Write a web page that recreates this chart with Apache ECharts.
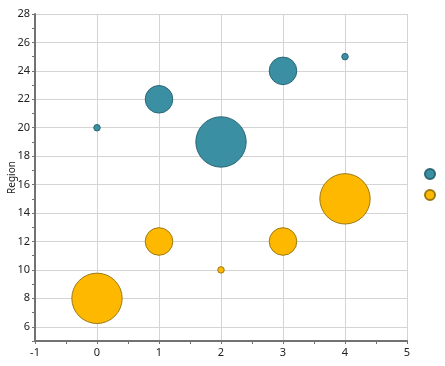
<!DOCTYPE html>
<html><head><meta charset="utf-8">
<script src="https://cdn.jsdelivr.net/npm/echarts@6/dist/echarts.min.js"></script>
<style>html,body{margin:0;padding:0;background:#fff}#c{width:445px;height:366px}</style>
</head><body><div id="c"></div>
<script>
var xValues = [0, 1, 2, 3, 4];
var tealY = [20, 22, 19, 24, 25];
var tealSize = [1, 18, 60, 18, 1];
var orangeY = [8, 12, 10, 12, 15];
var orangeSize = [60, 18, 1, 18, 60];
var seriesNames = ['Series 1', 'Series 2'];

function pts(ys, ss) { return xValues.map(function (x, i) { return [x, ys[i], ss[i]]; }); }
function sz(v) { return 6.5 * Math.sqrt(v[2]); }

var axisCol = '#727272', gridCol = '#d4d4d4', font = '"Noto Sans", sans-serif';
var chart = echarts.init(document.getElementById('c'));
chart.setOption({
  animation: false,
  grid: { left: 35, top: 14, width: 372, height: 327, containLabel: false, outerBoundsMode: 'none' },
  legend: {
    orient: 'vertical', right: 4, top: 163, itemWidth: 10, itemHeight: 10, itemGap: 9,
    icon: 'circle', formatter: function () { return ''; },
    data: seriesNames, textStyle: { fontSize: 1 }
  },
  xAxis: {
    type: 'value', min: -1, max: 5, interval: 1,
    axisLine: { show: true, onZero: false, lineStyle: { color: axisCol, width: 2 } },
    axisTick: { show: true, length: 3, lineStyle: { color: axisCol } },
    minorTick: { show: true, splitNumber: 2, length: 3, lineStyle: { color: axisCol } },
    splitLine: { show: true, lineStyle: { color: gridCol, width: 1 } },
    axisLabel: { color: '#222', fontSize: 11, fontFamily: font, margin: 6 }
  },
  yAxis: {
    type: 'value', min: 5, max: 28, interval: 1,
    name: 'Region', nameLocation: 'middle', nameGap: 18, nameMoveOverlap: false,
    nameTextStyle: { color: '#222', fontSize: 10, fontFamily: font },
    axisLine: { show: true, onZero: false, lineStyle: { color: axisCol, width: 2 } },
    axisTick: { show: true, length: 3, lineStyle: { color: axisCol } },
    splitLine: { show: true, lineStyle: { color: ['transparent', gridCol], width: 1 } },
    axisLabel: { color: '#222', fontSize: 11, fontFamily: font, margin: 5,
      formatter: function (v) { return v % 2 === 0 ? String(v) : ''; } }
  },
  series: [
    { name: seriesNames[0], type: 'scatter', data: pts(tealY, tealSize), symbolSize: sz,
      itemStyle: { color: '#3a90a2', borderColor: '#2a6676', borderWidth: 1, opacity: 1 } },
    { name: seriesNames[1], type: 'scatter', data: pts(orangeY, orangeSize), symbolSize: sz,
      itemStyle: { color: '#ffb800', borderColor: '#9a7a10', borderWidth: 1, opacity: 1 } }
  ]
});
</script></body></html>
